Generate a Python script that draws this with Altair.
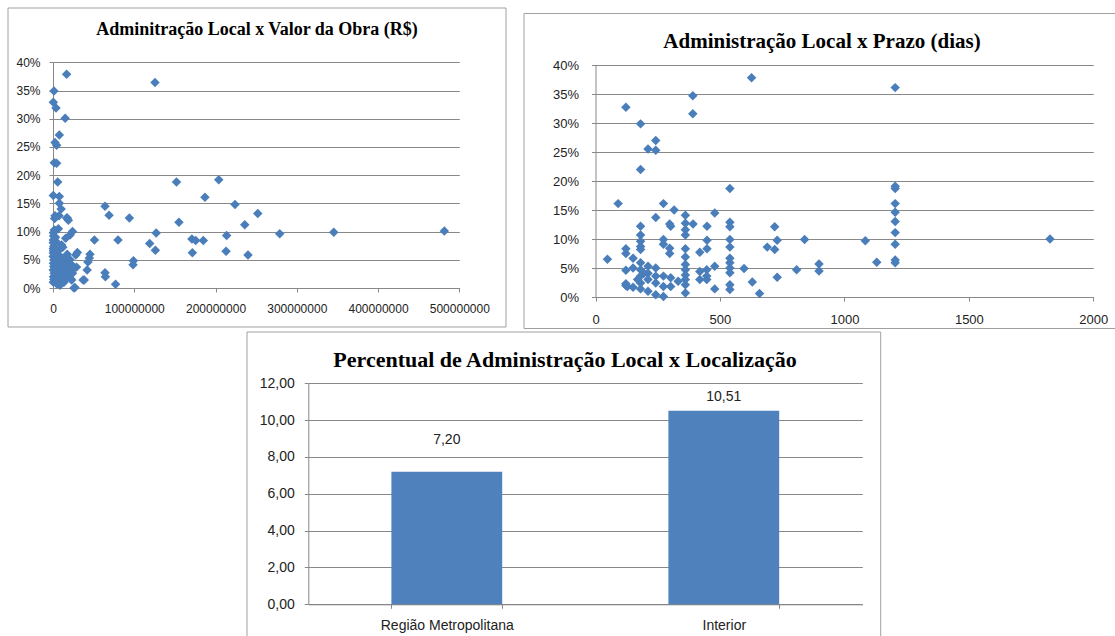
import altair as alt
import pandas as pd

# --- Administração local (%) x valor da obra (R$) ---------------------------
valor_obra = [
    125.5e6, 64e6, 69e6, 94e6, 80e6, 64e6, 64.5e6, 77e6, 99e6, 98.5e6,
    119e6, 127e6, 126e6, 152e6, 155e6, 171e6, 175.6e6, 171.5e6, 185e6, 187e6,
    204e6, 213.7e6, 213e6, 224e6, 236e6, 240e6, 252e6, 279e6, 345.5e6, 481.6e6,
    16.8e6, 1.2e6, 0.4e6, 3.7e6, 15e6, 7.8e6, 2.5e6, 4.5e6, 1.6e6, 4.5e6,
    5.8e6, 0.4e6, 7.8e6, 7.8e6, 10e6, 2.5e6, 7.4e6, 16.8e6, 18.9e6, 1.6e6,
    6.6e6, 24e6, 21e6, 15.6e6, 51e6, 10.7e6, 0.4e6, 0.4e6, 0.4e6, 30e6,
    28e6, 45.5e6, 44.7e6, 43e6, 42e6, 29e6, 38.5e6, 27e6, 23e6, 8.6e6,
    25.8e6, 25e6, 37e6, 17.6e6,
    0.5e6, 0.8e6, 0.3e6, 1.0e6, 0.6e6, 0.2e6, 1.2e6, 0.5e6, 0.9e6, 0.3e6,
    1.4e6, 0.6e6, 1.0e6, 0.4e6,
    2.5e6, 3.0e6, 4.0e6, 2.2e6, 3.5e6, 4.5e6, 2.8e6, 5.0e6, 3.2e6, 4.2e6,
    2.6e6, 5.5e6, 3.8e6, 4.8e6, 2.0e6,
    6.5e6, 7.5e6, 8.0e6, 9.0e6, 6.8e6, 10.0e6, 7.2e6, 11.0e6, 8.5e6, 9.5e6,
    6.2e6, 11.5e6, 10.5e6, 12.0e6,
    13e6, 14e6, 15e6, 16e6, 17e6, 18e6, 19e6, 20e6, 21e6, 22e6,
    13.5e6, 24e6, 26e6, 23e6, 15.5e6, 17.5e6,
]
adm_valor = [
    36.4, 14.5, 12.9, 12.4, 8.5, 2.7, 2.0, 0.65, 4.85, 4.1,
    7.9, 9.75, 6.7, 18.8, 11.65, 8.7, 8.4, 6.25, 8.4, 16.1,
    19.2, 9.3, 6.5, 14.8, 11.2, 5.85, 13.2, 9.6, 9.9, 10.1,
    37.9, 34.9, 32.9, 31.9, 30.1, 27.1, 25.8, 25.3, 22.2, 22.1,
    18.8, 16.4, 16.2, 15.0, 14.0, 12.8, 12.8, 12.4, 12.0, 10.3,
    10.5, 10.0, 9.4, 8.8, 8.5, 7.6, 8.5, 7.0, 6.2, 6.3,
    5.85, 6.0, 5.3, 4.6, 3.2, 3.7, 1.4, 0.1, 1.4, 0.5,
    0.0, 3.8, 1.4, 12.4,
    9.8, 9.2, 8.0, 7.4, 6.6, 5.6, 5.0, 4.4, 3.8, 3.2,
    2.6, 2.0, 1.5, 1.0,
    10.2, 9.0, 8.2, 7.0, 6.0, 5.4, 4.8, 4.0, 3.4, 2.8,
    2.2, 1.8, 1.2, 0.7, 12.3,
    6.6, 5.8, 5.0, 4.5, 4.0, 3.6, 3.0, 2.5, 2.0, 1.3,
    0.9, 5.2, 4.2, 7.2,
    4.8, 3.9, 3.2, 2.4, 1.8, 4.4, 3.0, 2.2, 5.0, 1.6,
    1.0, 2.6, 3.5, 4.0, 5.5, 6.0,
]

# --- Administração local (%) x prazo (dias) ---------------------------------
prazo_dias = [
    627, 391, 391, 122, 181, 242, 211, 242, 181, 540,
    91, 273, 316, 479, 361, 242, 181, 298, 302, 361,
    361, 392, 448, 540, 540, 720, 181, 181, 181, 181,
    361, 273, 273, 298, 298, 448, 448, 419, 540, 540,
    540, 540, 540, 540, 540, 540, 361, 361, 361, 361,
    361, 361, 361, 361, 730, 720, 690, 730, 597, 630,
    659, 808, 840, 898, 898, 48, 122, 122, 151, 122,
    151, 122, 122, 151, 181, 181, 181, 181, 181, 211,
    211, 211, 211, 242, 242, 242, 242, 273, 273, 273,
    302, 302, 332, 169, 195, 447, 447, 447, 419, 419,
    479, 479, 128,
    1204, 1204, 1204, 1204, 1204, 1204, 1204, 1204, 1204, 1204,
    1084, 1130, 1826,
]
adm_prazo = [
    37.8, 34.7, 31.6, 32.7, 29.85, 27.0, 25.5, 25.3, 22.0, 18.7,
    16.1, 16.1, 15.0, 14.5, 14.1, 13.7, 12.2, 12.6, 12.2, 12.7,
    11.6, 12.6, 12.2, 12.9, 12.1, 12.1, 10.7, 9.6, 8.7, 8.2,
    10.7, 9.9, 9.1, 8.4, 7.5, 9.8, 8.3, 7.7, 9.9, 8.6,
    6.7, 5.9, 5.0, 4.2, 2.1, 1.3, 8.3, 6.9, 5.6, 4.7,
    3.8, 3.0, 2.1, 0.7, 9.8, 8.2, 8.6, 3.4, 4.9, 2.6,
    0.6, 4.7, 9.9, 5.7, 4.5, 6.5, 8.3, 7.5, 6.7, 4.6,
    5.0, 2.3, 2.0, 1.7, 5.9, 4.7, 3.6, 2.4, 1.4, 5.3,
    4.1, 3.0, 1.0, 5.0, 3.6, 2.4, 0.4, 3.6, 1.8, 0.1,
    3.3, 1.8, 2.7, 3.0, 4.1, 4.7, 3.6, 3.0, 4.4, 3.0,
    5.3, 1.4, 1.8,
    36.1, 19.1, 18.7, 16.1, 14.6, 13.0, 11.1, 9.1, 6.4, 5.9,
    9.7, 6.0, 10.0,
]

# --- Percentual de administração local por localização ----------------------
localizacao = ["Região Metropolitana", "Interior"]
percentual_local = [7.20, 10.51]

df_valor = pd.DataFrame({"valor": valor_obra, "adm": adm_valor})
df_prazo = pd.DataFrame({"prazo": prazo_dias, "adm": adm_prazo})
df_local = pd.DataFrame({"local": localizacao, "pct": percentual_local})
df_local["rotulo"] = [f"{v:.2f}".replace(".", ",") for v in percentual_local]
one = pd.DataFrame({"k": [0]})

MARKER = "#4A7EBB"
BAR = "#4F81BD"
GRID = "#888888"
FRAME = "#a0a0a0"
LABEL = "#222222"
SANS = "Liberation Sans"
SERIF = "Liberation Serif"


def frame(x1, x2, y1, y2):
    return alt.Chart(one).mark_rect(filled=False, stroke=FRAME, strokeWidth=1).encode(
        x=alt.value(x1), x2=alt.value(x2), y=alt.value(y1), y2=alt.value(y2)
    )


def heading(text, x, y, size):
    return alt.Chart(one).mark_text(
        text=text, font=SERIF, fontWeight="bold", fontSize=size,
        align="center", baseline="middle", color="black",
    ).encode(x=alt.value(x), y=alt.value(y))


def axis(orient, offset, values, size, pad, grid=False, **kw):
    return alt.Axis(
        orient=orient, offset=offset, values=values, title=None, grid=grid,
        gridColor=GRID, gridWidth=1, domainColor=GRID, tickColor=GRID,
        tickSize=4, labelPadding=pad, labelFont=SANS, labelFontSize=size,
        labelColor=LABEL, labelFlush=False, labelOverlap=False, **kw,
    )


pct_ticks = list(range(0, 41, 5))

# Scatter: valor da obra
valor_chart = alt.Chart(df_valor).mark_point(
    shape="diamond", filled=True, size=90, opacity=1, color=MARKER
).encode(
    x=alt.X("valor:Q",
            scale=alt.Scale(domain=[0, 5e8], range=[53, 459.3], nice=False, zero=True),
            axis=axis("bottom", -348, [0, 1e8, 2e8, 3e8, 4e8, 5e8], 12, 11, format="d")),
    y=alt.Y("adm:Q",
            scale=alt.Scale(domain=[0, 40], range=[288, 62.3], nice=False),
            axis=axis("left", -53, pct_ticks, 12, 9, grid=True,
                      labelExpr="datum.value + '%'")),
)

# Scatter: prazo
prazo_chart = alt.Chart(df_prazo).mark_point(
    shape="diamond", filled=True, size=90, opacity=1, color=MARKER
).encode(
    x=alt.X("prazo:Q",
            scale=alt.Scale(domain=[0, 2000], range=[595.5, 1093.3], nice=False, zero=True),
            axis=axis("bottom", -339, [0, 500, 1000, 1500, 2000], 13, 12, format="d")),
    y=alt.Y("adm:Q",
            scale=alt.Scale(domain=[0, 40], range=[297, 65], nice=False),
            axis=axis("left", -595.5, pct_ticks, 13, 13, grid=True,
                      labelExpr="datum.value + '%'")),
)

# Bars: localização
x_loc = alt.X("local:N", sort=localizacao,
              scale=alt.Scale(range=[308.3, 862.3], paddingInner=0.6, paddingOuter=0.3),
              axis=axis("bottom", -31.7, localizacao, 14, 10, tickBand="extent", labelAngle=0))
y_loc = alt.Y("pct:Q",
              scale=alt.Scale(domain=[0, 12], range=[604.3, 383.3], nice=False),
              axis=axis("left", -308.3, [0, 2, 4, 6, 8, 10, 12], 14, 10, grid=True,
                        labelExpr="replace(format(datum.value, '.2f'), '.', ',')"))

bars = alt.Chart(df_local).mark_bar(color=BAR).encode(x=x_loc, y=y_loc)
label_metro = alt.Chart(df_local).mark_text(
    font=SANS, fontSize=14, color=LABEL, baseline="middle", align="center", dy=-32
).encode(x=x_loc, y=y_loc, text="rotulo:N").transform_filter(
    alt.datum.local == "Região Metropolitana")
label_int = alt.Chart(df_local).mark_text(
    font=SANS, fontSize=14, color=LABEL, baseline="middle", align="center", dy=-14
).encode(x=x_loc, y=y_loc, text="rotulo:N").transform_filter(
    alt.datum.local == "Interior")
bar_chart = alt.layer(bars, label_metro, label_int)

chart = alt.layer(
    frame(8, 506, 8, 327),
    frame(524, 1118, 13.5, 328.5),
    frame(247, 880.7, 332, 640),
    heading("Adminitração Local x Valor da Obra (R$)", 257, 30, 18),
    heading("Administração Local x Prazo (dias)", 822, 42, 21),
    heading("Percentual de Administração Local x Localização", 565, 360, 22),
    valor_chart,
    prazo_chart,
    bar_chart,
).resolve_scale(
    x="independent", y="independent"
).resolve_axis(
    x="independent", y="independent"
).properties(
    width=1115, height=636, padding=0, autosize="none", background="white"
).configure_view(stroke=None)

chart.save("out.html", embed_options={"renderer": "svg", "actions": False})
